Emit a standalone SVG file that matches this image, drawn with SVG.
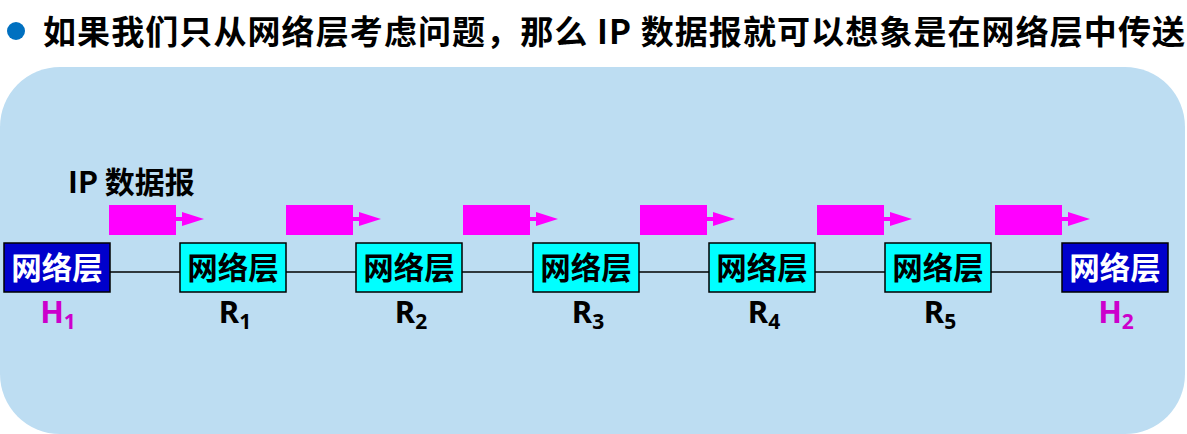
<svg xmlns="http://www.w3.org/2000/svg" width="1187" height="434" viewBox="0 0 1187 434">
<style>
.cjk{font-family:"Noto Sans CJK SC","Noto Sans",sans-serif;font-weight:bold}
.lbl{font-family:"Noto Sans","Liberation Sans",sans-serif;font-weight:bold;font-size:31px;text-anchor:middle;fill:#000}
.host .lbl{fill:#CC00CC}
.host rect{fill:#0000CC;stroke:#000;stroke-width:1.5}
.router rect{fill:#00FFFF;stroke:#000;stroke-width:1.5}
.host .ntext{fill:#fff}
.router .ntext{fill:#000}
.ntext{font-size:30.5px;text-anchor:middle}
.pkt{fill:#FF00FF}
</style>
<defs>
<g id="packet">
<rect class="pkt" x="0" y="205" width="67" height="30"/>
<rect class="pkt" x="66" y="217" width="8" height="4"/>
<polygon class="pkt" points="73,212 95,219 73,226"/>
</g>
</defs>
<rect x="0" y="67" width="1185" height="367" rx="60" ry="60" fill="#BDDDF2"/>
<circle cx="16" cy="31" r="9" fill="#0070C0"/>
<text class="cjk" x="43" y="44" font-size="33" textLength="1142" lengthAdjust="spacing">如果我们只从网络层考虑问题，那么 IP 数据报就可以想象是在网络层中传送</text>
<text class="cjk" x="68" y="193" font-size="30">IP 数据报</text>
<g id="connectors" stroke="#000" stroke-width="1.5">
<line x1="110" y1="272" x2="180" y2="272"/>
<line x1="286" y1="272" x2="356" y2="272"/>
<line x1="462" y1="272" x2="533" y2="272"/>
<line x1="639" y1="272" x2="709" y2="272"/>
<line x1="815" y1="272" x2="885" y2="272"/>
<line x1="991" y1="272" x2="1062" y2="272"/>
</g>
<g id="packets">
<use href="#packet" x="109"/>
<use href="#packet" x="286"/>
<use href="#packet" x="463"/>
<use href="#packet" x="640"/>
<use href="#packet" x="817"/>
<use href="#packet" x="995"/>
</g>
<g id="H1" class="host">
<rect x="4" y="243" width="106" height="49"/>
<text class="cjk ntext" x="57" y="279">网络层</text>
<text class="lbl" x="58" y="323">H<tspan font-size="21" dy="6">1</tspan></text>
</g>
<g id="R1" class="router">
<rect x="180" y="243" width="106" height="49"/>
<text class="cjk ntext" x="233" y="279">网络层</text>
<text class="lbl" x="235" y="323">R<tspan font-size="21" dy="6">1</tspan></text>
</g>
<g id="R2" class="router">
<rect x="356" y="243" width="106" height="49"/>
<text class="cjk ntext" x="409" y="279">网络层</text>
<text class="lbl" x="411" y="323">R<tspan font-size="21" dy="6">2</tspan></text>
</g>
<g id="R3" class="router">
<rect x="533" y="243" width="106" height="49"/>
<text class="cjk ntext" x="586" y="279">网络层</text>
<text class="lbl" x="588" y="323">R<tspan font-size="21" dy="6">3</tspan></text>
</g>
<g id="R4" class="router">
<rect x="709" y="243" width="106" height="49"/>
<text class="cjk ntext" x="762" y="279">网络层</text>
<text class="lbl" x="764" y="323">R<tspan font-size="21" dy="6">4</tspan></text>
</g>
<g id="R5" class="router">
<rect x="885" y="243" width="106" height="49"/>
<text class="cjk ntext" x="938" y="279">网络层</text>
<text class="lbl" x="940" y="323">R<tspan font-size="21" dy="6">5</tspan></text>
</g>
<g id="H2" class="host">
<rect x="1062" y="243" width="106" height="49"/>
<text class="cjk ntext" x="1115" y="279">网络层</text>
<text class="lbl" x="1116" y="323">H<tspan font-size="21" dy="6">2</tspan></text>
</g>
</svg>
